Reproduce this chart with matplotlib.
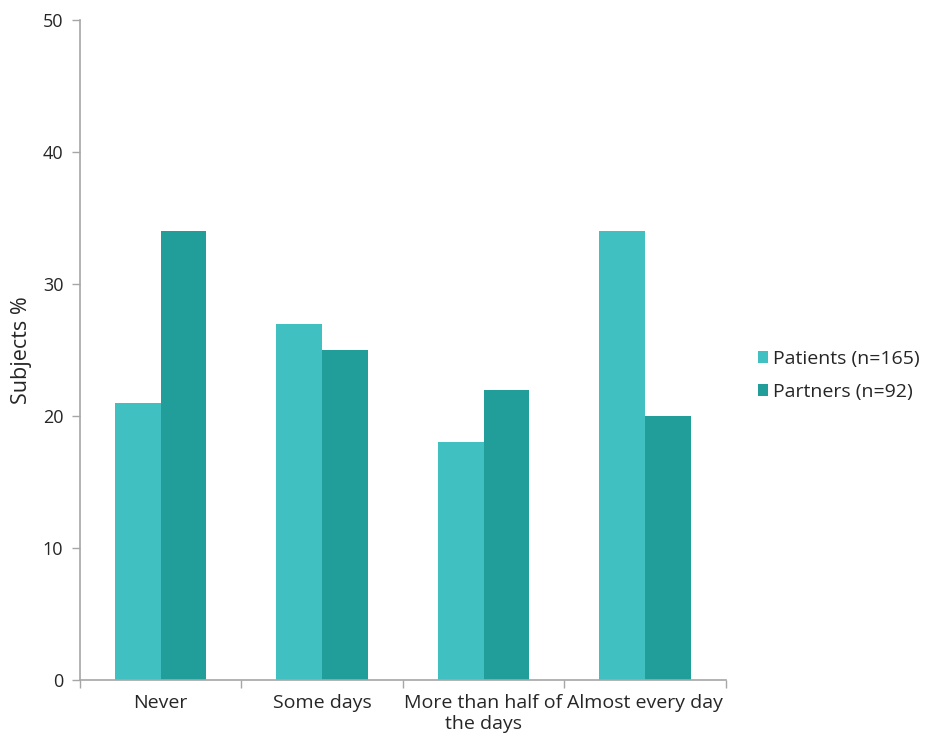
import matplotlib.pyplot as plt
import numpy as np

plt.rcParams["font.family"] = ["Open Sans", "DejaVu Sans"]

categories = ["Never", "Some days", "More than half of\nthe days", "Almost every day"]
patients = [21, 27, 18, 34]
partners = [34, 25, 22, 20]
series_labels = ["Patients (n=165)", "Partners (n=92)"]
y_ticks = [0, 10, 20, 30, 40, 50]

PATIENT_COLOR = "#41c0c2"
PARTNER_COLOR = "#229e9a"
AXIS_COLOR = "#a6a6a6"
TEXT_COLOR = "#262626"


def main() -> None:
    fig = plt.figure(figsize=(9.25, 7.36), dpi=100)
    ax = fig.add_axes([0.0865, 0.076, 0.698, 0.897])

    x = np.arange(len(categories))
    width = 0.283
    ax.bar(x - width / 2, patients, width, color=PATIENT_COLOR, label=series_labels[0])
    ax.bar(x + width / 2, partners, width, color=PARTNER_COLOR, label=series_labels[1])

    ax.set_xlim(-0.5, len(categories) - 0.5)
    ax.set_ylim(0, 50)
    ax.set_yticks(y_ticks)
    ax.set_ylabel("Subjects %", fontsize=15.5, color=TEXT_COLOR, labelpad=8)

    # category labels sit between boundary ticks
    ax.set_xticks(x)
    ax.set_xticklabels(categories, fontsize=14, color=TEXT_COLOR, linespacing=1.2)
    ax.tick_params(axis="x", length=0, pad=10)
    ax.set_xticks(np.arange(len(categories) + 1) - 0.5, minor=True)
    ax.tick_params(axis="x", which="minor", length=6, color=AXIS_COLOR, width=1)
    ax.tick_params(axis="y", length=6, color=AXIS_COLOR, width=1, labelsize=13,
                   labelcolor=TEXT_COLOR, pad=6)

    for side in ("top", "right"):
        ax.spines[side].set_visible(False)
    for side in ("left", "bottom"):
        ax.spines[side].set_color(AXIS_COLOR)
        ax.spines[side].set_linewidth(1.2)

    fig.legend(loc="center left", bbox_to_anchor=(0.819, 0.49), frameon=False,
               fontsize=14, handlelength=0.55, handleheight=0.55, handletextpad=0.25,
               labelspacing=0.75, labelcolor=TEXT_COLOR, borderaxespad=0, borderpad=0)

    fig.savefig("out.png", dpi=100)
    plt.close(fig)


if __name__ == "__main__":
    main()
